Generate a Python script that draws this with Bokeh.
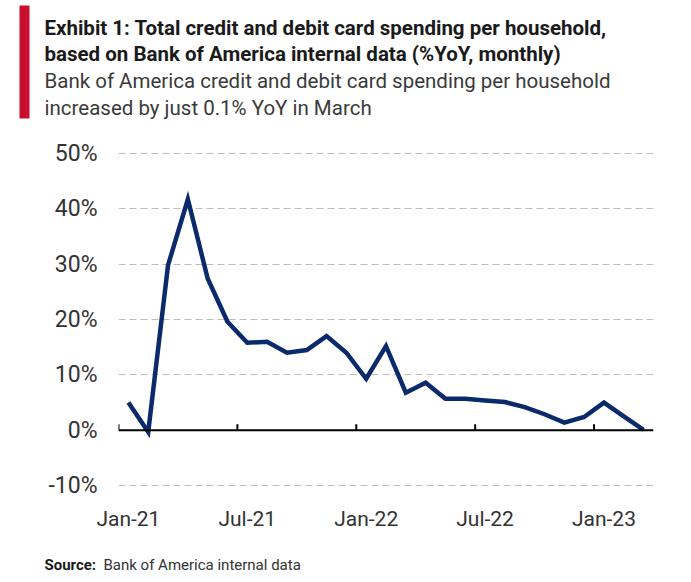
from bokeh.plotting import figure
from bokeh.models import Label, Span, BoxAnnotation, FixedTicker
from bokeh.embed import file_html
from bokeh.resources import INLINE

months = ["Jan-21", "Feb-21", "Mar-21", "Apr-21", "May-21", "Jun-21", "Jul-21", "Aug-21", "Sep-21",
          "Oct-21", "Nov-21", "Dec-21", "Jan-22", "Feb-22", "Mar-22", "Apr-22", "May-22", "Jun-22",
          "Jul-22", "Aug-22", "Sep-22", "Oct-22", "Nov-22", "Dec-22", "Jan-23", "Feb-23", "Mar-23"]
spending_yoy = [5.0, -0.3, 29.8, 41.7, 27.4, 19.6, 15.8, 16.0, 14.0, 14.5, 17.0, 14.0, 9.3, 15.2,
                6.8, 8.6, 5.7, 5.7, 5.4, 5.1, 4.2, 2.9, 1.4, 2.4, 5.0, 2.5, 0.1]
x_tick_labels = ["Jan-21", "Jul-21", "Jan-22", "Jul-22", "Jan-23"]
y_ticks = [-10, 0, 10, 20, 30, 40, 50]

title_lines = ["Exhibit 1: Total credit and debit card spending per household,",
               "based on Bank  of America internal data (%YoY, monthly)"]
subtitle_lines = ["Bank of America credit and debit card spending per household",
                  "increased by just 0.1% YoY in March"]
source_label = "Source:"
source_text = "Bank of America internal data"

FONT = "Roboto"
NAVY = "#0b2a6c"
W = 683


def blank(height):
    f = figure(width=W, height=height, output_backend="svg", toolbar_location=None,
               x_range=(0, W), y_range=(0, height), x_axis_type=None, y_axis_type=None,
               min_border=0, min_border_left=0, min_border_right=0,
               min_border_top=0, min_border_bottom=0)
    f.outline_line_color = None
    f.grid.visible = False
    f.background_fill_color = "white"
    f.border_fill_color = "white"
    return f


# ---------- header ----------
head = blank(138)
head.add_layout(BoxAnnotation(left=19, right=29, bottom=20, top=133,
                              left_units="screen", right_units="screen",
                              bottom_units="screen", top_units="screen",
                              fill_color="#c8102e", fill_alpha=1, line_color=None))
for i, t in enumerate(title_lines):
    head.add_layout(Label(x=44, y=111 - 26 * i, x_units="screen", y_units="screen", text=t,
                          text_font=FONT, text_font_style="bold", text_font_size="20.5px",
                          text_color="#1a1a1a", text_baseline="alphabetic"))
for i, t in enumerate(subtitle_lines):
    head.add_layout(Label(x=44, y=58 - 27 * i, x_units="screen", y_units="screen", text=t,
                          text_font=FONT, text_font_size="20.5px",
                          text_color="#3a3a3a", text_baseline="alphabetic"))

# ---------- main chart ----------
x = list(range(len(months)))
tick_pos = [months.index(m) for m in x_tick_labels]

p = figure(width=W, height=402, output_backend="svg", toolbar_location=None,
           x_range=(-0.5, len(months) - 0.5), y_range=(y_ticks[0] - 0.5, y_ticks[-1] + 0.5),
           min_border_left=118, min_border_right=30, min_border_top=12, min_border_bottom=52)
p.outline_line_color = None
p.background_fill_color = "white"
p.border_fill_color = "white"

p.xaxis.ticker = FixedTicker(ticks=tick_pos)
p.xaxis.major_label_overrides = {t: l for t, l in zip(tick_pos, x_tick_labels)}
p.xaxis.axis_line_color = None
p.xaxis.major_tick_line_color = None
p.xaxis.minor_tick_line_color = None
p.xaxis.major_label_standoff = 12
p.xaxis.major_label_text_font = FONT
p.xaxis.major_label_text_font_size = "21px"
p.xaxis.major_label_text_color = "#333333"

p.yaxis.ticker = FixedTicker(ticks=y_ticks)
p.yaxis.major_label_overrides = {t: f"{t}%" for t in y_ticks}
p.yaxis.axis_line_color = None
p.yaxis.major_tick_line_color = None
p.yaxis.minor_tick_line_color = None
p.yaxis.major_label_standoff = 15
p.yaxis.major_label_text_font = FONT
p.yaxis.major_label_text_font_size = "23px"
p.yaxis.major_label_text_color = "#333333"

p.xgrid.grid_line_color = None
p.ygrid.ticker = FixedTicker(ticks=y_ticks)
p.ygrid.grid_line_color = "#bdbdbd"
p.ygrid.grid_line_dash = "7 4"
p.ygrid.grid_line_width = 1

p.add_layout(Span(location=0, dimension="width", line_color="black", line_width=2))
p.segment(x0=[t - 0.5 for t in tick_pos], y0=[0] * len(tick_pos),
          x1=[t - 0.5 for t in tick_pos], y1=[1.1] * len(tick_pos),
          line_color="black", line_width=2)

p.line(x, spending_yoy, line_color=NAVY, line_width=4.5, line_join="miter")

# ---------- footer ----------
foot = blank(42)
foot.add_layout(Label(x=44, y=18, x_units="screen", y_units="screen", text=source_label,
                      text_font=FONT, text_font_style="bold", text_font_size="15px",
                      text_color="#1a1a1a", text_baseline="alphabetic"))
foot.add_layout(Label(x=103, y=18, x_units="screen", y_units="screen", text=source_text,
                      text_font=FONT, text_font_size="15px",
                      text_color="#333333", text_baseline="alphabetic"))

open("out.html", "w").write(file_html([head, p, foot], INLINE))
